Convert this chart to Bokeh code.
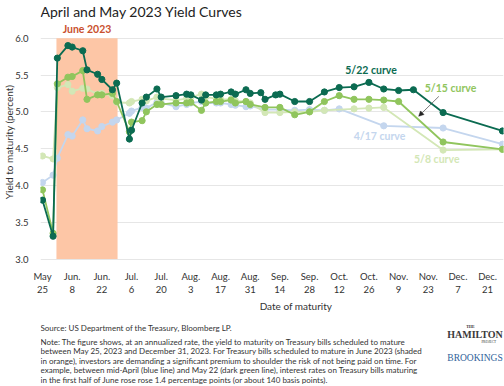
import pandas as pd
from bokeh.plotting import figure
from bokeh.layouts import column
from bokeh.models import Range1d, FixedTicker, Label, Arrow, NormalHead
from bokeh.embed import file_html
from bokeh.resources import INLINE

# ---------------- data ----------------
BASE = pd.Timestamp("2023-05-25")

dates_early = ["2023-05-25", "2023-05-30", "2023-06-01", "2023-06-06", "2023-06-08",
               "2023-06-13", "2023-06-15", "2023-06-20", "2023-06-22", "2023-06-27",
               "2023-06-29", "2023-07-05", "2023-07-06", "2023-07-11", "2023-07-13",
               "2023-07-18", "2023-07-20", "2023-07-27", "2023-08-01", "2023-08-03",
               "2023-08-08", "2023-08-10", "2023-08-15", "2023-08-17", "2023-08-22",
               "2023-08-24", "2023-08-29", "2023-08-31"]

# 5/22 curve (dark green)
dates_522 = dates_early + ["2023-09-05", "2023-09-07", "2023-09-12", "2023-09-14", "2023-09-21",
                           "2023-09-28", "2023-10-05", "2023-10-12", "2023-10-19", "2023-10-26",
                           "2023-11-02", "2023-11-09", "2023-11-16", "2023-11-30", "2023-12-28"]
yield_522 = [3.80, 3.31, 5.73, 5.90, 5.88, 5.83, 5.57, 5.51, 5.44, 5.30, 5.39,
             4.63, 4.75, 5.12, 5.20, 5.31, 5.20, 5.22, 5.24, 5.23, 5.16, 5.23, 5.23, 5.24,
             5.27, 5.24, 5.30, 5.25,
             5.26, 5.17, 5.23, 5.24, 5.14, 5.14, 5.27, 5.33, 5.34, 5.40, 5.31, 5.29, 5.30,
             4.99, 4.74]

# 5/15 curve (medium green)
dates_515 = dates_early + ["2023-09-07", "2023-09-14", "2023-09-21", "2023-09-28", "2023-10-05",
                           "2023-10-12", "2023-10-19", "2023-10-26", "2023-11-02", "2023-11-09",
                           "2023-11-30", "2023-12-28"]
yield_515 = [3.94, 3.35, 5.38, 5.47, 5.48, 5.56, 5.17, 5.23, 5.23, 5.25, 5.14,
             4.73, 4.86, 4.88, 5.00, 5.10, 5.10, 5.12, 5.12, 5.13, 5.02, 5.12, 5.14, 5.14,
             5.16, 5.12, 5.14, 5.10,
             5.06, 5.06, 4.96, 5.00, 5.14, 5.22, 5.17, 5.17, 5.16, 5.14, 4.59, 4.49]

# 5/8 curve (light green)
dates_508 = dates_early + ["2023-09-07", "2023-09-14", "2023-09-21", "2023-09-28", "2023-10-05",
                           "2023-10-19", "2023-10-26", "2023-11-02", "2023-11-30", "2023-12-28"]
yield_508 = [4.40, 4.36, 5.33, 5.37, 5.28, 5.32, 5.31, 5.24, 5.25, 5.22, 5.13,
             5.12, 5.14, 5.17, 5.15, 5.20, 5.18, 5.16, 5.18, 5.20, 5.24, 5.20, 5.18, 5.17,
             5.17, 5.15, 5.14, 5.12,
             4.99, 4.99, 5.00, 5.00, 5.02, 5.04, 5.05, 5.06, 4.48, 4.49]

# 4/17 curve (blue)
dates_417 = dates_early + ["2023-09-07", "2023-09-14", "2023-09-21", "2023-09-28", "2023-10-05",
                           "2023-10-12", "2023-11-02", "2023-11-30", "2023-12-28"]
yield_417 = [4.04, 4.14, 4.37, 4.69, 4.67, 4.89, 4.77, 4.74, 4.80, 4.86, 4.89,
             4.98, 5.01, 5.06, 5.05, 5.13, 5.12, 5.07, 5.10, 5.12, 5.14, 5.12, 5.12, 5.12,
             5.10, 5.09, 5.07, 5.08,
             5.03, 5.03, 5.02, 5.03, 5.02, 5.04, 4.81, 4.78, 4.56]

tick_dates = ["2023-05-25", "2023-06-08", "2023-06-22", "2023-07-06", "2023-07-20",
              "2023-08-03", "2023-08-17", "2023-08-31", "2023-09-14", "2023-09-28",
              "2023-10-12", "2023-10-26", "2023-11-09", "2023-11-23", "2023-12-07",
              "2023-12-21"]
tick_labels = ["May\n25", "Jun.\n8", "Jun.\n22", "Jul.\n6", "Jul.\n20", "Aug.\n3",
               "Aug.\n17", "Aug.\n31", "Sep.\n14", "Sep.\n28", "Oct.\n12", "Oct.\n26",
               "Nov.\n9", "Nov.\n23", "Dec.\n7", "Dec.\n21"]
y_ticks = [3.0, 3.5, 4.0, 4.5, 5.0, 5.5, 6.0]

june_start = "2023-05-31 14:00"
june_end = "2023-06-29 10:00"

series = [
    ("4/17 curve", dates_417, yield_417, "#c4d6ee"),
    ("5/8 curve", dates_508, yield_508, "#d3e7b6"),
    ("5/15 curve", dates_515, yield_515, "#90c55d"),
    ("5/22 curve", dates_522, yield_522, "#0b6b51"),
]

notes = [
    "Source: US Department of the Treasury, Bloomberg LP.",
    "Note: The figure shows, at an annualized rate, the yield to maturity on Treasury bills scheduled to mature",
    "between May 25, 2023 and December 31, 2023. For Treasury bills scheduled to mature in June 2023 (shaded",
    "in orange), investors are demanding a significant premium to shoulder the risk of not being paid on time. For",
    "example, between mid-April (blue line) and May 22 (dark green line), interest rates on Treasury bills maturing",
    "in the first half of June rose rose 1.4 percentage points (or about 140 basis points).",
]


def days(ds):
    return [(pd.Timestamp(d) - BASE).total_seconds() / 86400.0 for d in ds]


FONT = "Lato"
TXT = "#333333"
W = 504
HEAD_H = 23
MAIN_H = 277
FOOT_H = 386 - HEAD_H - MAIN_H
LEFT = 0


def text_panel(h):
    f = figure(width=W, height=h, x_range=Range1d(0, W), y_range=Range1d(h, 0),
               x_axis_type=None, y_axis_type=None, output_backend="svg",
               toolbar_location=None, min_border=0, title=None)
    f.outline_line_color = None
    f.background_fill_color = "white"
    f.border_fill_color = "white"
    return f


def plabel(f, x, y, text, size, color=TXT, align="left", font=FONT, style="normal"):
    f.add_layout(Label(x=x, y=y, text=text, text_font=font, text_font_size=size,
                       text_color=color, text_align=align, text_baseline="middle",
                       text_font_style=style))


# ---------------- header ----------------
head = text_panel(HEAD_H)
plabel(head, LEFT, 11, "April and May 2023 Yield Curves", "14px", color="#222222")

# ---------------- main chart ----------------
p = figure(width=W, height=MAIN_H, x_range=Range1d(-0.94, 217.5), y_range=Range1d(2.98, 6.2),
           output_backend="svg", toolbar_location=None, title=None,
           min_border_left=38, min_border_right=1, min_border_top=0, min_border_bottom=40)
p.outline_line_color = None
p.background_fill_color = "white"
p.border_fill_color = "white"
p.xgrid.visible = False
p.ygrid.grid_line_color = "#e6e6e6"
p.ygrid.grid_line_width = 1

p.yaxis.ticker = FixedTicker(ticks=y_ticks)
p.yaxis.major_label_overrides = {t: f"{t:.1f}" for t in y_ticks}
tick_days = days(tick_dates)
p.xaxis.ticker = FixedTicker(ticks=tick_days)
p.xaxis.major_label_overrides = {t: l for t, l in zip(tick_days, tick_labels)}
for ax in (p.xaxis[0], p.yaxis[0]):
    ax.axis_line_color = None
    ax.major_tick_line_color = None
    ax.minor_tick_line_color = None
    ax.major_label_text_font = FONT
    ax.major_label_text_font_size = "9.5px"
    ax.major_label_text_color = TXT
p.yaxis.major_label_standoff = 6
p.xaxis.major_label_standoff = 4
p.yaxis.axis_label = "Yield to maturity (percent)"
p.yaxis.axis_label_text_font = FONT
p.yaxis.axis_label_text_font_size = "10px"
p.yaxis.axis_label_text_font_style = "normal"
p.yaxis.axis_label_text_color = TXT
p.yaxis.axis_label_standoff = -3

# June shading
j0, j1 = days([june_start, june_end])
p.quad(left=j0, right=j1, bottom=3.0, top=6.0, fill_color="#fdc6a6", line_color=None)

for name, ds, ys, col in series:
    xs = days(ds)
    p.line(xs, ys, line_color=col, line_width=1.8)
    p.scatter(xs, ys, size=6.2, fill_color=col, line_color=col)


def dlabel(x, y, text, color, size="10.5px", style="bold"):
    p.add_layout(Label(x=x, y=y, text=text, text_color=color, text_font=FONT,
                       text_font_size=size, text_font_style=style,
                       text_align="center", text_baseline="middle"))


dlabel(21, 6.12, "June 2023", "#c9502d")
dlabel(155, 5.57, "5/22 curve", "#0b6b51")
dlabel(192.5, 5.32, "5/15 curve", "#90c55d")
dlabel(159, 4.67, "4/17 curve", "#c4d6ee")
dlabel(186, 4.36, "5/8 curve", "#d3e7b6")

p.add_layout(Arrow(end=NormalHead(size=5, fill_color="#222", line_color="#222", line_width=0.5),
                   x_start=187, y_start=5.21, x_end=177.5, y_end=4.94,
                   line_color="#444", line_width=0.7))

# ---------------- footer ----------------
foot = text_panel(FOOT_H)
plabel(foot, 278, 5, "Date of maturity", "10px", align="center")
plabel(foot, LEFT, 27, notes[0], "8px")
for i, line in enumerate(notes[1:]):
    plabel(foot, LEFT, 41 + i * 9.6, line, "8px")

plabel(foot, 468, 26, "THE", "4px", font="Liberation Serif", style="bold", align="center")
plabel(foot, 473, 34, "HAMILTON", "10px", font="Liberation Serif", align="center",
       color="#3a3a3a", style="bold")
plabel(foot, 488, 41.5, "PROJECT", "3.5px", font="Liberation Serif", align="center")
plabel(foot, 473, 57, "BROOKINGS", "9.5px", font="Liberation Serif", align="center",
       color="#2f5f9a")

layout = column(head, p, foot)
open("out.html", "w").write(file_html(layout, INLINE))
